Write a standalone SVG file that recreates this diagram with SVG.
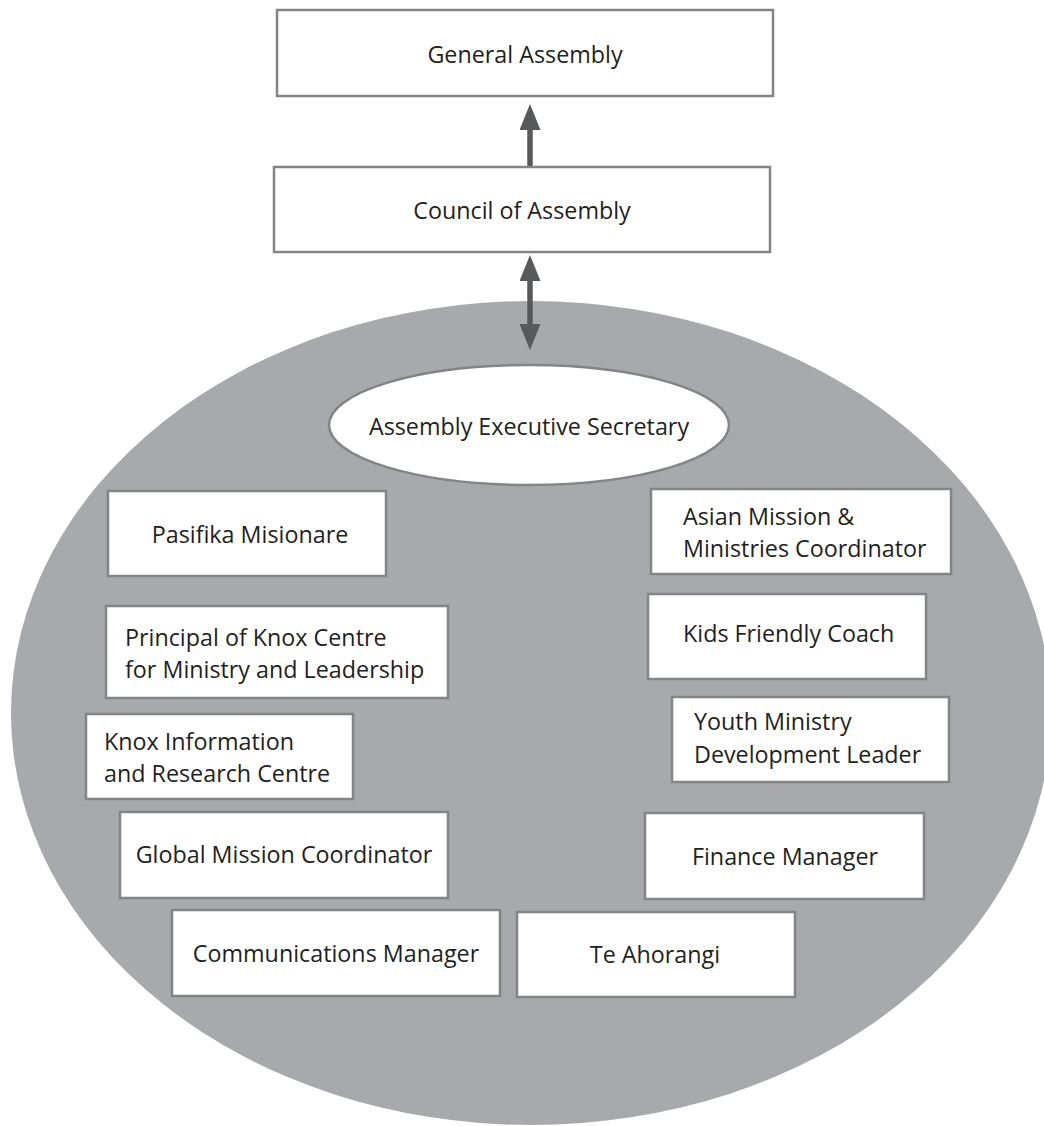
<svg xmlns="http://www.w3.org/2000/svg" width="1044" height="1126" viewBox="0 0 1044 1126">
<style>
.box{fill:#ffffff;stroke:#838487;stroke-width:2.5}
.t{font-family:"Open Sans","Liberation Sans",sans-serif;font-size:23.3px;fill:#231f20}
.c{text-anchor:middle}
.arr{stroke:#58595b;stroke-width:5.5;fill:none}
</style>
<defs>
<marker id="ah" viewBox="0 -10.5 26 21" refX="2" refY="0" markerWidth="26" markerHeight="21" markerUnits="userSpaceOnUse" orient="auto-start-reverse">
<path d="M0,-10.5 L26,0 L0,10.5 z" fill="#58595b"/>
</marker>
</defs>
<rect width="1044" height="1126" fill="#ffffff"/>
<ellipse id="bg" cx="531" cy="713" rx="520" ry="412" fill="#a7a9ac"/>
<g id="connectors">
<line class="arr" x1="530" y1="167" x2="530" y2="128" marker-end="url(#ah)"/>
<line class="arr" x1="530" y1="279" x2="530" y2="326" marker-start="url(#ah)" marker-end="url(#ah)"/>
</g>
<g id="general-assembly">
<rect class="box" x="277" y="10" width="496" height="86"/>
<text class="t c" x="525" y="63">General Assembly</text>
</g>
<g id="council-of-assembly">
<rect class="box" x="274" y="167" width="496" height="85"/>
<text class="t c" x="522" y="219">Council of Assembly</text>
</g>
<g id="assembly-executive-secretary">
<ellipse cx="529" cy="425" rx="200" ry="60" fill="#ffffff" stroke="#838487" stroke-width="2.5"/>
<text class="t c" x="529" y="435">Assembly Executive Secretary</text>
</g>
<g id="pasifika-misionare">
<rect class="box" x="108" y="491" width="278" height="85"/>
<text class="t c" x="250" y="543">Pasifika Misionare</text>
</g>
<g id="principal-knox">
<rect class="box" x="106" y="606" width="342" height="92"/>
<text class="t" x="125" y="646">Principal of Knox Centre</text>
<text class="t" x="125" y="678">for Ministry and Leadership</text>
</g>
<g id="knox-information">
<rect class="box" x="86" y="714" width="267" height="85"/>
<text class="t" x="104" y="750">Knox Information</text>
<text class="t" x="104" y="782">and Research Centre</text>
</g>
<g id="global-mission">
<rect class="box" x="120" y="812" width="328" height="86"/>
<text class="t c" x="284" y="863">Global Mission Coordinator</text>
</g>
<g id="communications-manager">
<rect class="box" x="172" y="910" width="328" height="86"/>
<text class="t c" x="336" y="962">Communications Manager</text>
</g>
<g id="te-ahorangi">
<rect class="box" x="517" y="912" width="278" height="85"/>
<text class="t c" x="655" y="963">Te Ahorangi</text>
</g>
<g id="finance-manager">
<rect class="box" x="645" y="813" width="279" height="86"/>
<text class="t c" x="785" y="865">Finance Manager</text>
</g>
<g id="asian-mission">
<rect class="box" x="651" y="489" width="300" height="85"/>
<text class="t" x="683" y="525">Asian Mission &amp;</text>
<text class="t" x="683" y="557">Ministries Coordinator</text>
</g>
<g id="kids-friendly-coach">
<rect class="box" x="648" y="594" width="278" height="85"/>
<text class="t" x="683" y="642">Kids Friendly Coach</text>
</g>
<g id="youth-ministry">
<rect class="box" x="672" y="697" width="277" height="85"/>
<text class="t" x="694" y="730">Youth Ministry</text>
<text class="t" x="694" y="763">Development Leader</text>
</g>
</svg>
